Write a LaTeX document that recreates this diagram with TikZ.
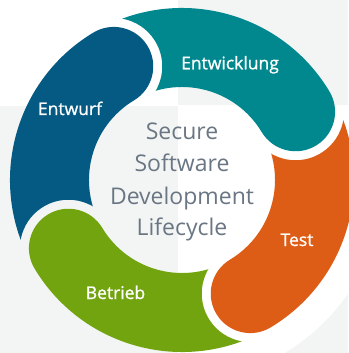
\documentclass[tikz,border=0pt]{standalone}
\usepackage{fontspec}
\setmainfont{Open Sans}
\newfontfamily\labelfont{Open Sans}[FakeBold=1]
\definecolor{bgGray}{HTML}{F3F5F5}
\definecolor{cBlue}{HTML}{045A82}
\definecolor{cTeal}{HTML}{01888F}
\definecolor{cOrange}{HTML}{DE5D16}
\definecolor{cGreen}{HTML}{72A40F}
\definecolor{cText}{HTML}{6A7683}
\newcommand\ringseg[3]{%
  \begin{scope}[even odd rule]
    \clip (-250,-250) rectangle (250,250) (#2:\Rm) circle[radius=\Rg];
    \fill[#1] (#2:\Ro) arc[start angle=#2, end angle=#3, radius=\Ro]
      arc[start angle=#3, end angle=#3-180, radius=\Rh]
      arc[start angle=#3, end angle=#2, radius=\Ri] -- cycle;
  \end{scope}}
\begin{document}
\begin{tikzpicture}[x=1pt,y=1pt,
  seglabel/.style={text=white, font=\labelfont\fontsize{17.5}{20}\selectfont, anchor=base, inner sep=0pt},
  centertext/.style={text=cText, font=\fontsize{23}{27}\selectfont, anchor=base, inner sep=0pt}]
\def\Ro{172}\def\Ri{93}\def\Rm{132.5}\def\Rh{39.5}\def\Rg{48.5}
\useasboundingbox (-182,-173) rectangle (166,180);
\fill[bgGray] (-182,-173) rectangle (166,180);
\fill[white] (-182,74) rectangle (-4,180);
\begin{scope}
  \clip (-4,74) rectangle (166,-173);
  \fill[white] (0,0) circle[radius=201];
\end{scope}
\ringseg{cBlue}{211}{121}
\ringseg{cTeal}{121}{31}
\ringseg{cOrange}{31}{-59}
\ringseg{cGreen}{-59}{-149}
\node[seglabel] (entwurf) at (-112,65) {Entwurf};
\node[seglabel] (entwicklung) at (48,110.7) {Entwicklung};
\node[seglabel] (test) at (115,-66) {Test};
\node[seglabel] (betrieb) at (-66.5,-119) {Betrieb};
\node[centertext] (l1) at (0,40) {Secure};
\node[centertext] (l2) at (0,8.3) {Software};
\node[centertext] (l3) at (0,-24) {Development};
\node[centertext] (l4) at (0,-55) {Lifecycle};
\end{tikzpicture}
\end{document}
